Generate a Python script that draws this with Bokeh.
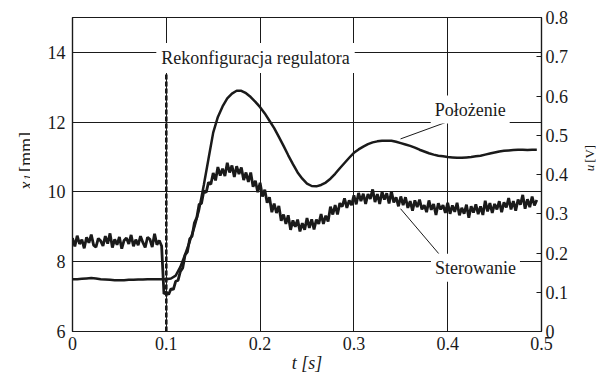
import numpy as np
from bokeh.plotting import figure
from bokeh.models import Range1d, LinearAxis, FixedTicker, Label
from bokeh.core.properties import value
from bokeh.layouts import row
from bokeh.embed import file_html
from bokeh.resources import INLINE

# ---------------- data ----------------
T_POS_STEP = 0.005
POS_MM = [
    7.50, 7.50, 7.51, 7.52, 7.53, 7.52, 7.50, 7.49, 7.48, 7.47,
    7.47, 7.47, 7.48, 7.48, 7.49, 7.49, 7.50, 7.50, 7.50, 7.50,
    7.50, 7.52, 7.60, 7.85, 8.20, 8.58, 9.00, 9.50, 10.20, 10.95,
    11.70, 12.15, 12.45, 12.68, 12.82, 12.90, 12.90, 12.83, 12.72, 12.58,
    12.43, 12.25, 12.04, 11.83, 11.58, 11.32, 11.05, 10.80, 10.56, 10.38,
    10.24, 10.17, 10.16, 10.20, 10.27, 10.38, 10.52, 10.68, 10.83, 10.98,
    11.12, 11.22, 11.30, 11.37, 11.42, 11.45, 11.47, 11.47, 11.47, 11.44,
    11.40, 11.36, 11.32, 11.27, 11.21, 11.16, 11.11, 11.07, 11.04, 11.02,
    11.00, 10.99, 10.98, 10.98, 10.99, 11.00, 11.02, 11.04, 11.07, 11.10,
    11.13, 11.16, 11.18, 11.19, 11.20, 11.21, 11.21, 11.20, 11.21, 11.21,
]

T_U_STEP = 0.0025
U_V = [
    0.238, 0.217, 0.244, 0.223, 0.234, 0.212, 0.240, 0.226, 0.247, 0.220,
    0.215, 0.237, 0.231, 0.218, 0.243, 0.224, 0.250, 0.214, 0.235, 0.221,
    0.241, 0.211, 0.232, 0.238, 0.223, 0.246, 0.217, 0.234, 0.220, 0.243,
    0.227, 0.214, 0.240, 0.235, 0.215, 0.249, 0.221, 0.232, 0.218,
    0.096, 0.100, 0.094, 0.109, 0.107, 0.128, 0.130, 0.153, 0.162, 0.195,
    0.203, 0.236, 0.243, 0.277, 0.290, 0.324, 0.326, 0.358, 0.354, 0.380,
    0.375,
    0.404, 0.385, 0.419, 0.397, 0.415, 0.396, 0.430, 0.405, 0.423, 0.394,
    0.421, 0.401, 0.418, 0.386, 0.405, 0.381, 0.405, 0.369, 0.384, 0.355,
    0.379,
    0.344, 0.361, 0.328, 0.342, 0.304, 0.326, 0.302, 0.320, 0.282, 0.298,
    0.274, 0.296, 0.259, 0.283, 0.267, 0.285, 0.255, 0.276, 0.259, 0.289,
    0.264, 0.286, 0.260, 0.285, 0.274, 0.299, 0.274, 0.295, 0.280, 0.318,
    0.298, 0.322, 0.298, 0.327, 0.318, 0.339, 0.315, 0.334, 0.322, 0.347,
    0.324, 0.353, 0.332, 0.351, 0.325, 0.350, 0.338, 0.362, 0.330, 0.350,
    0.325, 0.356, 0.336, 0.352, 0.326, 0.357, 0.329, 0.342, 0.319, 0.344,
    0.322, 0.342, 0.315, 0.332, 0.308, 0.334, 0.317, 0.336, 0.311, 0.322,
    0.304, 0.334, 0.310, 0.325, 0.297, 0.327, 0.311, 0.322, 0.302, 0.328,
    0.300, 0.321, 0.305, 0.328, 0.296, 0.315, 0.300, 0.323, 0.290, 0.319,
    0.303, 0.324, 0.299, 0.319, 0.297, 0.333, 0.306, 0.327, 0.302, 0.325,
    0.311, 0.332, 0.304, 0.329, 0.316, 0.340, 0.311, 0.332, 0.308, 0.336,
    0.323, 0.348, 0.313, 0.337, 0.317, 0.344, 0.321, 0.335,
]

X_TICKS = [0, 0.1, 0.2, 0.3, 0.4, 0.5]
X_TICK_LABELS = ["0", "0.1", "0.2", "0.3", "0.4", "0.5"]
Y_TICKS = [6, 8, 10, 12, 14]
Y_TICK_LABELS = ["6", "8", "10", "12", "14"]
U_TICKS = [0, 0.1, 0.2, 0.3, 0.4, 0.5, 0.6, 0.7, 0.8]
U_TICK_LABELS = ["0", "0.1", "0.2", "0.3", "0.4", "0.5", "0.6", "0.7", "0.8"]
X_TITLE = "t [s]"

EVENT_T = 0.1                     # controller reconfiguration instant
EVENT_TEXT = "Rekonfiguracja regulatora"
POS_TEXT = "Położenie"
U_TEXT = "Sterowanie"

# ---------------- styling ----------------
FONT = "Liberation Serif"
INK = "#1a1a1a"

LEFT_W, RIGHT_W, MAIN_W = 30, 21, 545
MAIN_H = 378

t_pos = np.arange(len(POS_MM)) * T_POS_STEP
t_u = np.arange(len(U_V)) * T_U_STEP


def add_text(fig, x, y, text, size="18px", style="normal", align="center",
             baseline="middle", angle=0, bg=None, pad=0):
    fig.add_layout(Label(x=x, y=y, text=text, text_font=FONT,
                         text_font_size=size, text_font_style=style,
                         text_color=INK, text_align=align,
                         text_baseline=baseline, angle=angle,
                         angle_units="deg", background_fill_color=bg,
                         padding=pad))


def glyph_text(fig, x, y, text, size="18px", style="normal", angle=0.0):
    fig.text(x=[x], y=[y], text=[text], angle=angle,
             text_font=value(FONT), text_font_size=value(size),
             text_font_style=style, text_color=INK,
             text_align="left", text_baseline="alphabetic")


def strip(w, h):
    f = figure(width=w, height=h, output_backend="svg", toolbar_location=None,
               title=None,
               x_range=Range1d(0, w), y_range=Range1d(0, h),
               x_axis_location=None, y_axis_location=None,
               min_border_left=0, min_border_right=0, min_border_top=0,
               min_border_bottom=0,
               outline_line_color=None, background_fill_color="white",
               border_fill_color="white")
    f.grid.visible = False
    return f


# ---------------- main plot ----------------
p = figure(width=MAIN_W, height=MAIN_H, output_backend="svg",
           toolbar_location=None, title=None,
           x_range=Range1d(0, 0.5), y_range=Range1d(6, 15),
           min_border_left=42, min_border_right=34, min_border_top=17,
           min_border_bottom=MAIN_H - 331, background_fill_color="white",
           border_fill_color="white")
p.extra_y_ranges = {"u": Range1d(0, 0.8)}
p.outline_line_color = INK
p.outline_line_width = 1.2


def style_axis(ax, ticks, labels, standoff):
    ax.ticker = FixedTicker(ticks=ticks, minor_ticks=[])
    ax.major_label_overrides = {tk: lb for tk, lb in zip(ticks, labels)}
    ax.major_label_text_font = FONT
    ax.major_label_text_font_size = "18px"
    ax.major_label_text_color = INK
    ax.major_label_standoff = standoff
    ax.axis_line_color = INK
    ax.axis_line_width = 1.2
    ax.major_tick_line_color = INK
    ax.minor_tick_line_color = None
    ax.major_tick_out = 0
    ax.major_tick_in = 0


style_axis(p.xaxis[0], X_TICKS, X_TICK_LABELS, 5)
style_axis(p.yaxis[0], Y_TICKS, Y_TICK_LABELS, 7)

xa = p.xaxis[0]
xa.axis_label = X_TITLE
xa.axis_label_text_font = FONT
xa.axis_label_text_font_size = "18px"
xa.axis_label_text_font_style = "italic"
xa.axis_label_text_color = INK
xa.axis_label_standoff = 0

uax = LinearAxis(y_range_name="u")
style_axis(uax, U_TICKS, U_TICK_LABELS, 4)
uax.major_tick_in = 5
p.add_layout(uax, "right")

p.xgrid.ticker = FixedTicker(ticks=[0.1, 0.2, 0.3, 0.4], minor_ticks=[])
p.ygrid.ticker = FixedTicker(ticks=[8, 10, 12, 14], minor_ticks=[])
for g in (p.xgrid[0], p.ygrid[0]):
    g.grid_line_color = INK
    g.grid_line_width = 1
    g.grid_line_alpha = 1

# curves
p.line(t_u, U_V, y_range_name="u", line_color=INK, line_width=2.8)
p.line(t_pos, POS_MM, line_color=INK, line_width=2.5)

# reconfiguration marker (thick dashed, below the caption)
p.segment(x0=[EVENT_T], y0=[6], x1=[EVENT_T], y1=[13.4],
          line_color=INK, line_width=2.6, line_dash="5 2")

# leader lines for the annotations
LEAD_X0 = [0.3977, 0.3905]
LEAD_Y0 = [11.99, 8.23]
LEAD_X1 = [0.3497, 0.3497]
LEAD_Y1 = [11.52, 9.52]
p.segment(x0=LEAD_X0, y0=LEAD_Y0, x1=LEAD_X1, y1=LEAD_Y1,
          line_color=INK, line_width=1)

add_text(p, 0.1951, 13.84, EVENT_TEXT, bg="white", pad=5)
add_text(p, 0.424, 12.36, POS_TEXT, bg="white", pad=4)
add_text(p, 0.4296, 7.83, U_TEXT, bg="white", pad=4)

# ---------------- side axis titles (italic symbols + upright units) ----------
ROT = np.pi / 2
left = strip(LEFT_W, MAIN_H)
glyph_text(left, 25, MAIN_H - 207, "x", style="italic", angle=ROT)
glyph_text(left, 27, MAIN_H - 196, "1", size="12px", style="italic", angle=ROT)
glyph_text(left, 25, MAIN_H - 186, "[mm]", angle=ROT)

right = strip(RIGHT_W, MAIN_H)
glyph_text(right, 14, MAIN_H - 185, "u", size="13px", style="italic", angle=ROT)
glyph_text(right, 14, MAIN_H - 175, "[V]", size="13px", angle=ROT)

layout = row(left, p, right, spacing=0)

open("out.html", "w").write(file_html(layout, INLINE))
